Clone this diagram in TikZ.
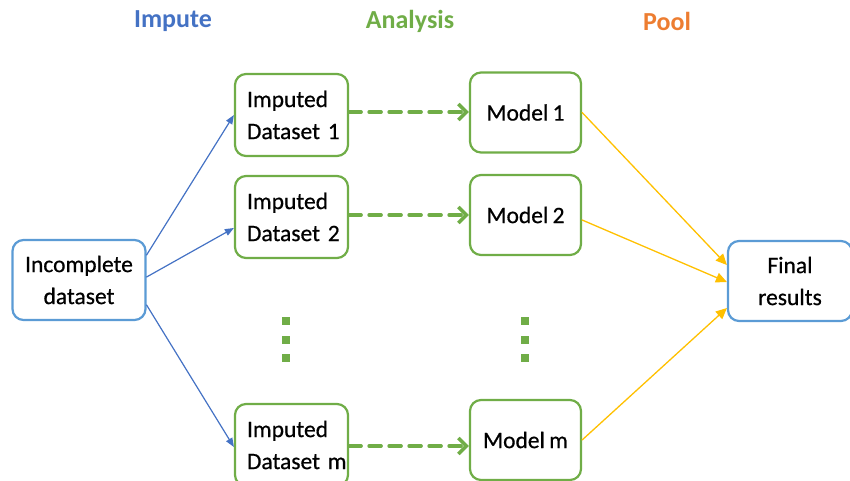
\documentclass[tikz,border=0pt]{standalone}
\usepackage{fontspec}
\setmainfont{Carlito}
\newfontfamily\medfont{Carlito}[FakeBold=0.6,WordSpace=0.8]
\usetikzlibrary{arrows.meta}
\definecolor{impblue}{HTML}{4472C4}
\definecolor{boxblue}{HTML}{5B9BD5}
\definecolor{anagreen}{HTML}{70AD47}
\definecolor{poolorange}{HTML}{ED7D31}
\definecolor{poolyellow}{HTML}{FFC000}
\tikzset{
  basebox/.style={line width=2.2pt,rounded corners=11pt,fill=white,
    minimum height=80pt,font=\medfont\fontsize{23.5}{32}\selectfont},
  bluebox/.style={basebox,draw=boxblue,minimum width=133pt,align=center},
  impbox/.style={basebox,draw=anagreen,minimum width=113pt,minimum height=82pt,
    text width=89pt,inner xsep=12pt,align=left},
  modbox/.style={basebox,draw=anagreen,minimum width=111pt,align=center},
  headtxt/.style={font=\fontsize{26}{30}\selectfont\bfseries},
  imparrow/.style={impblue,line width=1.2pt,-{Triangle[length=9pt,width=7pt]}},
  anaarrow/.style={anagreen,line width=3.5pt,dash pattern=on 12pt off 8pt,
    -{Straight Barb[length=8pt,width=16pt,line width=3.5pt]}},
  poolarrow/.style={poolyellow,line width=1.3pt,-{Triangle[length=11pt,width=10pt]}},
}
\begin{document}
\begin{tikzpicture}[x=1pt,y=-1pt,line cap=round,line join=round]
  \useasboundingbox (0,0) rectangle (850,481);
  % headers
  \node[headtxt,text=impblue] (hImp) at (173,21) {Impute};
  \node[headtxt,text=anagreen] (hAna) at (410,21) {Analysis};
  \node[headtxt,text=poolorange] (hPool) at (667,21) {Pool};
  % boxes
  \node[bluebox] (inc) at (79,280) {Incomplete\\dataset};
  \node[impbox] (imp1) at (291.5,115) {\mbox{Imputed}\\\mbox{Dataset 1}};
  \node[impbox] (imp2) at (291.5,217) {\mbox{Imputed}\\\mbox{Dataset 2}};
  \node[impbox] (impm) at (291.5,445) {\mbox{Imputed}\\\mbox{Dataset m}};
  \node[modbox] (mod1) at (525.5,112.5) {Model 1};
  \node[modbox] (mod2) at (525.5,215) {Model 2};
  \node[modbox] (modm) at (525.5,440) {Model m};
  \node[bluebox,minimum width=124pt] (fin) at (790,281) {Final\\results};
  % vertical dots
  \foreach \x in {286,525} {
    \foreach \y in {321,339.5,358} {
      \fill[anagreen] (\x-4,\y-4) rectangle (\x+4,\y+4);
    }
  }
  % impute
  \draw[imparrow] ([yshift=25pt]inc.east) -- (imp1.west);
  \draw[imparrow] ([yshift=3pt]inc.east) -- ([yshift=-11pt]imp2.west);
  \draw[imparrow] ([yshift=-25pt]inc.east) -- ([yshift=-2pt]impm.west);
  % analysis
  \draw[anaarrow] ([yshift=3pt]imp1.east) coordinate (a1) -- (a1 -| mod1.west);
  \draw[anaarrow] ([yshift=2pt]imp2.east) coordinate (a2) -- (a2 -| mod2.west);
  \draw[anaarrow] ([yshift=-1pt]impm.east) coordinate (am) -- (am -| modm.west);
  % pool
  \draw[poolarrow] (mod1.east) -- ([yshift=16pt]fin.west);
  \draw[poolarrow] ([yshift=-5pt]mod2.east) -- ([yshift=-1pt]fin.west);
  \draw[poolarrow] (modm.east) -- ([yshift=-27pt]fin.west);
\end{tikzpicture}
\end{document}
